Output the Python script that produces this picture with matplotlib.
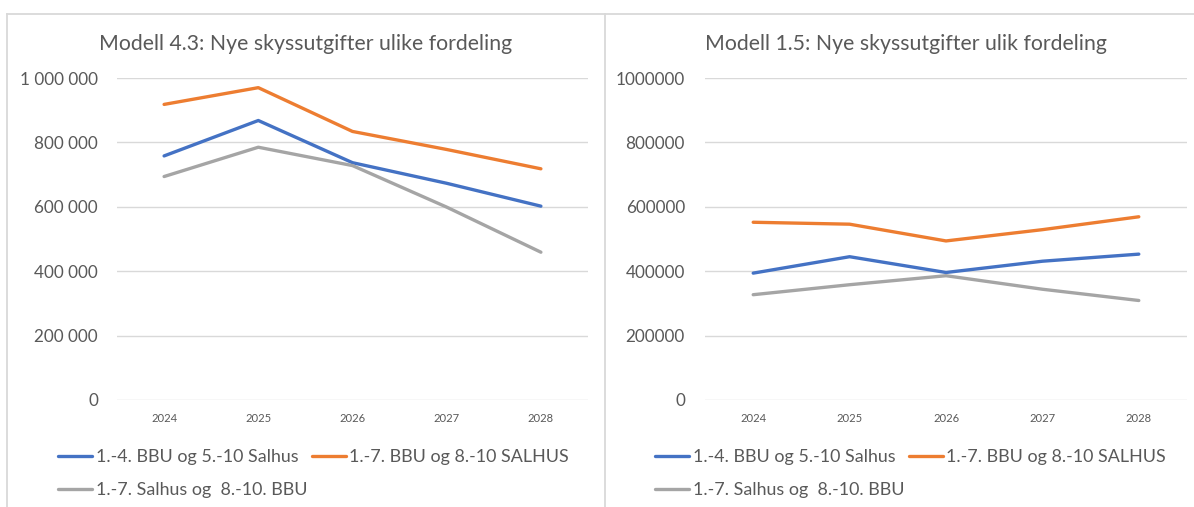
import matplotlib
matplotlib.use("Agg")
import matplotlib.pyplot as plt
from matplotlib.lines import Line2D

plt.rcParams['font.family'] = ['Lato', 'DejaVu Sans']

years = ['2024', '2025', '2026', '2027', '2028']
series_labels = ['1.-4. BBU og 5.-10 Salhus',
                 '1.-7. BBU og 8.-10 SALHUS',
                 '1.-7. Salhus og  8.-10. BBU']
m43_blue = [758000, 868000, 737000, 673000, 602000]
m43_orange = [918000, 970000, 834000, 778000, 718000]
m43_gray = [694000, 785000, 728000, 599000, 459000]
m15_blue = [394000, 445000, 396000, 431000, 453000]
m15_orange = [552000, 546000, 494000, 529000, 569000]
m15_gray = [327000, 358000, 386000, 344000, 309000]
yticks = [0, 200000, 400000, 600000, 800000, 1000000]
ylabels_left = ['0', '200 000', '400 000', '600 000', '800 000', '1 000 000']
ylabels_right = ['0', '200000', '400000', '600000', '800000', '1000000']
title_left = 'Modell 4.3: Nye skyssutgifter ulike fordeling'
title_right = 'Modell 1.5: Nye skyssutgifter ulik fordeling'

colors = ['#4472C4', '#ED7D31', '#A5A5A5']
TXT = '#595959'
GRID = '#D9D9D9'

W, H = 1194, 507
fig = plt.figure(figsize=(W / 100, H / 100), dpi=100)


def fx(x):
    return x / W


def fy(y):
    return 1 - y / H


def make_panel(left, right, data, ylabels, title, tcx, legx, pad):
    ax = fig.add_axes([fx(left), fy(400), (right - left) / W, (400 - 78) / H])
    x = list(range(len(years)))
    handles = []
    for vals, c, lab in zip(data, colors, series_labels):
        h, = ax.plot(x, vals, color=c, lw=2.4, label=lab,
                     solid_capstyle='round', solid_joinstyle='round', zorder=3)
        handles.append(h)
    ax.set_xlim(-0.5, len(years) - 0.5)
    ax.set_ylim(0, 1000000)
    ax.set_yticks(yticks)
    ax.set_yticklabels(ylabels)
    ax.set_xticks(x)
    ax.set_xticklabels(years)
    ax.grid(axis='y', color=GRID, lw=1.0, zorder=0)
    for s in ax.spines.values():
        s.set_visible(False)
    ax.tick_params(axis='y', length=0, pad=pad, labelsize=12.3, labelcolor=TXT)
    ax.tick_params(axis='x', length=0, pad=9.5, labelsize=8.1, labelcolor=TXT)
    fig.text(fx(tcx), fy(44), title, ha='center', va='center',
             fontsize=15.35, color=TXT)
    order = [0, 2, 1]
    ax.legend([handles[i] for i in order], [series_labels[i] for i in order],
              ncol=2, loc='upper left', frameon=False,
              bbox_to_anchor=(fx(legx), fy(449)), bbox_transform=fig.transFigure,
              borderpad=0, borderaxespad=0, fontsize=12.9, labelcolor=TXT,
              handlelength=1.9, handletextpad=0.2, columnspacing=0.25,
              labelspacing=0.97)
    return ax


make_panel(117, 588, [m43_blue, m43_orange, m43_gray], ylabels_left,
           title_left, 306, 58, 13.7)
make_panel(705, 1187, [m15_blue, m15_orange, m15_gray], ylabels_right,
           title_right, 906, 655, 14.4)

# chart borders
bc = '#D9D9D9'
for (x0, y0, x1, y1) in [(7, 14, 1194, 14), (7, 14, 7, 507), (605, 14, 605, 507)]:
    fig.add_artist(Line2D([fx(x0), fx(x1)], [fy(y0), fy(y1)],
                          transform=fig.transFigure, color=bc, lw=1.3))

fig.savefig('out.png', dpi=100)
